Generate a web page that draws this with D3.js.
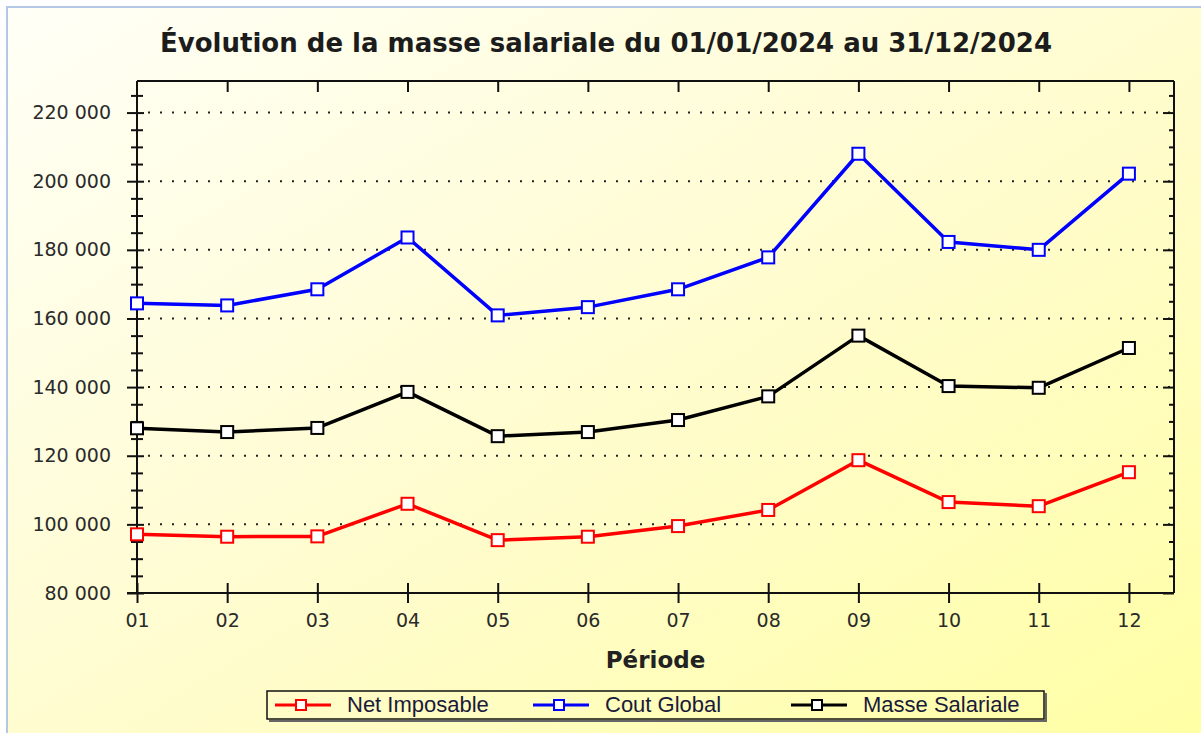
<!DOCTYPE html>
<html>
<head>
<meta charset="utf-8">
<script src="https://cdn.jsdelivr.net/npm/d3@7"></script>
<style>
  html, body { margin: 0; padding: 0; background: #fff; }
  svg { display: block; }
</style>
</head>
<body>
<svg width="1201" height="733"></svg>
<script>
const periods = ['01', '02', '03', '04', '05', '06', '07', '08', '09', '10', '11', '12'];
const netImposable = [97100, 96400, 96500, 106000, 95400, 96400, 99500, 104200, 118700, 106500, 105300, 115200];
const coutGlobal = [164400, 163800, 168500, 183600, 160900, 163300, 168500, 177800, 208000, 182300, 180000, 202200];
const masseSalariale = [128000, 126900, 128100, 138600, 125700, 126900, 130400, 137300, 155000, 140300, 139800, 151400];
const yTicks = [80000, 100000, 120000, 140000, 160000, 180000, 200000, 220000];
const yMinorTicks = d3.range(85000, 229000, 5000).filter(v => v % 20000 !== 0);
const yMin = 80000, yMax = 229200;

const series = [
  { name: 'Net Imposable', color: '#ff0000', values: netImposable },
  { name: 'Cout Global', color: '#0000ff', values: coutGlobal },
  { name: 'Masse Salariale', color: '#000000', values: masseSalariale },
];

const plot = { left: 137, right: 1174, top: 81, bottom: 593 };
const step = (plot.right - plot.left) / 11.5;

const xScale = d3.scalePoint().domain(periods).range([plot.left, plot.right - step / 2]);
const yScale = d3.scaleLinear().domain([yMin, yMax]).range([plot.bottom, plot.top]);

const fr = d3.formatLocale({ decimal: ',', thousands: ' ', grouping: [3], currency: ['', ' €'] });
const fmt = fr.format(',d');

const svg = d3.select('svg');

// background
const defs = svg.append('defs');
const grad = defs.append('linearGradient').attr('id', 'bg')
  .attr('x1', 0).attr('y1', 0).attr('x2', 1).attr('y2', 1);
grad.append('stop').attr('offset', '0%').attr('stop-color', '#fffff7');
grad.append('stop').attr('offset', '55%').attr('stop-color', '#fffccc');
grad.append('stop').attr('offset', '100%').attr('stop-color', '#ffffa4');

svg.append('rect').attr('x', 7).attr('y', 7).attr('width', 1200).attr('height', 730)
  .attr('fill', 'url(#bg)').attr('stroke', '#b4c8e6').attr('stroke-width', 2);

// title
svg.append('text')
  .attr('x', 606).attr('y', 52)
  .attr('text-anchor', 'middle')
  .style('font-family', 'DejaVu Sans').style('font-weight', 'bold').style('font-size', '26px')
  .attr('fill', '#1c1c1c')
  .text('Évolution de la masse salariale du 01/01/2024 au 31/12/2024');

const chart = svg.append('g');

// dotted grid
chart.selectAll('.grid')
  .data(yTicks.filter(v => v > yMin))
  .enter().append('line')
  .attr('class', 'grid')
  .attr('x1', plot.left + 11).attr('x2', plot.right)
  .attr('y1', d => yScale(d)).attr('y2', d => yScale(d))
  .attr('stroke', '#222').attr('stroke-width', 2)
  .attr('stroke-dasharray', '2,10');

// frame lines
const axisColor = '#111';
chart.append('line').attr('x1', plot.left).attr('x2', plot.right).attr('y1', plot.top).attr('y2', plot.top)
  .attr('stroke', axisColor).attr('stroke-width', 2);
chart.append('line').attr('x1', plot.right).attr('x2', plot.right).attr('y1', plot.top).attr('y2', plot.bottom)
  .attr('stroke', axisColor).attr('stroke-width', 2);

// left axis
const leftAxis = chart.append('g')
  .attr('transform', `translate(${plot.left},0)`)
  .call(d3.axisLeft(yScale).tickValues(yTicks).tickFormat(fmt).tickSize(10).tickPadding(16).tickSizeOuter(0));
leftAxis.select('.domain').attr('d', `M0,${plot.top}V${plot.bottom}`).attr('stroke', axisColor).attr('stroke-width', 2);
leftAxis.selectAll('.tick line').attr('x1', 7).attr('stroke', axisColor).attr('stroke-width', 2);
leftAxis.selectAll('.tick text')
  .style('font-family', 'DejaVu Sans').style('font-size', '19px').attr('fill', '#2a2a2a');

chart.append('g')
  .attr('transform', `translate(${plot.left},0)`)
  .call(d3.axisLeft(yScale).tickValues(yMinorTicks).tickFormat('').tickSize(6).tickSizeOuter(0))
  .call(g => g.select('.domain').remove())
  .call(g => g.selectAll('.tick line').attr('x1', 6).attr('stroke', axisColor).attr('stroke-width', 2));

// right axis ticks
chart.append('g')
  .attr('transform', `translate(${plot.right},0)`)
  .call(d3.axisLeft(yScale).tickValues(yTicks).tickFormat('').tickSize(11).tickSizeOuter(0))
  .call(g => g.select('.domain').remove())
  .call(g => g.selectAll('.tick line').attr('stroke', axisColor).attr('stroke-width', 2));
chart.append('g')
  .attr('transform', `translate(${plot.right},0)`)
  .call(d3.axisLeft(yScale).tickValues(yMinorTicks).tickFormat('').tickSize(5).tickSizeOuter(0))
  .call(g => g.select('.domain').remove())
  .call(g => g.selectAll('.tick line').attr('stroke', axisColor).attr('stroke-width', 2));

// bottom axis
const bottomAxis = chart.append('g')
  .attr('transform', `translate(0,${plot.bottom})`)
  .call(d3.axisBottom(xScale).tickSize(10).tickPadding(10).tickSizeOuter(0));
bottomAxis.select('.domain').attr('d', `M${plot.left - 10},0H${plot.right}`).attr('stroke', axisColor).attr('stroke-width', 2);
bottomAxis.selectAll('.tick line').attr('y1', -10).attr('stroke', axisColor).attr('stroke-width', 2);
bottomAxis.selectAll('.tick text')
  .attr('y', 34).attr('dy', null)
  .style('font-family', 'DejaVu Sans').style('font-size', '19px').attr('fill', '#2a2a2a');

// top axis ticks
chart.append('g')
  .attr('transform', `translate(0,${plot.top})`)
  .call(d3.axisTop(xScale).tickValues(periods.slice(1)).tickFormat('').tickSize(11).tickSizeOuter(0))
  .call(g => g.select('.domain').remove())
  .call(g => g.selectAll('.tick line').attr('y2', 11).attr('y1', 0).attr('stroke', axisColor).attr('stroke-width', 2));

// x axis title
svg.append('text')
  .attr('x', (plot.left + plot.right) / 2).attr('y', 668)
  .attr('text-anchor', 'middle')
  .style('font-family', 'DejaVu Sans').style('font-weight', 'bold').style('font-size', '23px')
  .attr('fill', '#222')
  .text('Période');

// lines
const line = d3.line()
  .x((d, i) => xScale(periods[i]))
  .y(d => yScale(d));

series.forEach(s => {
  chart.append('path')
    .datum(s.values)
    .attr('d', line)
    .attr('fill', 'none')
    .attr('stroke', s.color)
    .attr('stroke-width', 3.5)
    .attr('stroke-linejoin', 'round');

  chart.selectAll(null)
    .data(s.values)
    .enter().append('rect')
    .attr('x', (d, i) => xScale(periods[i]) - 6)
    .attr('y', d => yScale(d) - 6)
    .attr('width', 12).attr('height', 12)
    .attr('fill', '#fff')
    .attr('stroke', s.color)
    .attr('stroke-width', 2);
});

// legend
const legend = svg.append('g');
legend.append('path').attr('d', 'M269,721H1046V693')
  .attr('fill', 'none').attr('stroke', '#666').attr('stroke-width', 2);
legend.append('rect').attr('x', 267).attr('y', 691).attr('width', 777).attr('height', 28)
  .attr('fill', 'none').attr('stroke', '#111').attr('stroke-width', 1.5);

const items = legend.selectAll('.item')
  .data(series)
  .enter().append('g')
  .attr('class', 'item')
  .attr('transform', (d, i) => `translate(${275 + i * 258},705)`);
items.append('line').attr('x1', 0).attr('x2', 56).attr('y1', 0).attr('y2', 0)
  .attr('stroke', d => d.color).attr('stroke-width', 3);
items.append('rect').attr('x', 21).attr('y', -5).attr('width', 10).attr('height', 10)
  .attr('fill', '#fff').attr('stroke', d => d.color).attr('stroke-width', 2);
items.append('text')
  .attr('x', 72).attr('y', 7)
  .style('font-family', 'Liberation Sans').style('font-size', '22px')
  .attr('fill', '#1a1a3a')
  .text(d => d.name);
</script>
</body>
</html>
